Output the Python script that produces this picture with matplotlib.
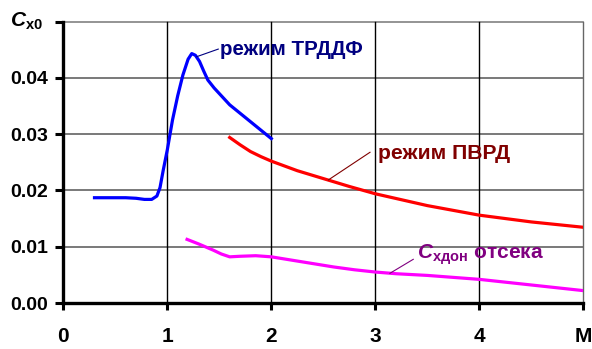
import matplotlib
matplotlib.use("Agg")
import matplotlib.pyplot as plt

plt.rcParams['font.family'] = ['Liberation Sans', 'DejaVu Sans']
plt.rcParams['font.weight'] = 'bold'
plt.rcParams['mathtext.fontset'] = 'custom'
plt.rcParams['mathtext.it'] = 'Liberation Sans:italic:bold'
plt.rcParams['mathtext.bf'] = 'Liberation Sans:bold'
plt.rcParams['mathtext.rm'] = 'Liberation Sans:bold'

# --- data ---
m_trddf = [0.30, 0.40, 0.50, 0.60, 0.70, 0.78, 0.85, 0.90, 0.93, 0.96, 1.00, 1.05,
           1.10, 1.15, 1.20, 1.235, 1.27, 1.31, 1.35, 1.39, 1.45, 1.50, 1.60, 1.70,
           1.80, 1.90, 2.00]
cx_trddf = [0.0187, 0.0187, 0.0187, 0.0187, 0.0186, 0.0184, 0.0184, 0.0190, 0.0205,
            0.0235, 0.0272, 0.0325, 0.0368, 0.0405, 0.0433, 0.0443, 0.0440, 0.0429,
            0.0412, 0.0396, 0.0382, 0.0372, 0.0352, 0.0337, 0.0322, 0.0307, 0.0292]

m_pvrd = [1.60, 1.70, 1.80, 1.90, 2.00, 2.25, 2.50, 2.75, 3.00, 3.50, 4.00, 4.50, 5.00]
cx_pvrd = [0.0294, 0.0281, 0.0269, 0.0260, 0.0252, 0.0235, 0.0221, 0.0207, 0.0194,
           0.0173, 0.0156, 0.0144, 0.01345]

m_don = [1.19, 1.30, 1.44, 1.52, 1.60, 1.70, 1.85, 2.00, 2.20, 2.40, 2.60, 2.80,
         3.00, 3.20, 3.50, 4.00, 4.50, 5.00]
cx_don = [0.0113, 0.0105, 0.0094, 0.0087, 0.0082, 0.0083, 0.0084, 0.0082, 0.0076,
          0.0070, 0.0064, 0.0059, 0.0055, 0.0052, 0.0049, 0.0042, 0.0032, 0.0022]

x_ticks = [0, 1, 2, 3, 4, 5]
x_labels = ['0', '1', '2', '3', '4', 'M']
y_ticks = [0.00, 0.01, 0.02, 0.03, 0.04, 0.05]
y_labels = ['0.00', '0.01', '0.02', '0.03', '0.04', '']

fig = plt.figure(figsize=(5.92, 3.49), dpi=100)
ax = fig.add_axes([63.3 / 592, 1 - 303 / 349, 520 / 592, (303 - 21.5) / 349])

ax.set_xlim(0, 5)
ax.set_ylim(0, 0.05)

# grid
for yv in y_ticks[1:]:
    ax.axhline(yv, color='#555555' if yv < 0.05 else '#777777', lw=1.1, zorder=1,
               clip_on=False)
for xv in x_ticks[1:]:
    ax.axvline(xv, color='#000000' if xv < 5 else '#666666', lw=1.0, zorder=1,
               clip_on=False)

ax.plot(m_trddf, cx_trddf, color='#0000FF', lw=2.3, zorder=3, solid_joinstyle='round')
ax.plot(m_pvrd, cx_pvrd, color='#FF0000', lw=2.3, zorder=3, solid_joinstyle='round')
ax.plot(m_don, cx_don, color='#FF00FF', lw=2.3, zorder=3, solid_joinstyle='round')

for s in ['top', 'right']:
    ax.spines[s].set_visible(False)
for s in ['left', 'bottom']:
    ax.spines[s].set_linewidth(2.4)
    ax.spines[s].set_zorder(4)

ax.set_xticks(x_ticks)
ax.set_xticklabels(x_labels)
ax.set_yticks(y_ticks)
ax.set_yticklabels(y_labels)
ax.tick_params(axis='y', direction='out', length=6, width=2.2, pad=5, labelsize=14)
ax.tick_params(axis='x', direction='out', length=5, width=2.2, pad=12, labelsize=15)

# annotations
ax.plot([1.283, 1.49], [0.04375, 0.0451], color='#000080', lw=0.8, zorder=3)
ax.text(1.51, 0.0451, 'режим ТРДДФ', color='#000080', fontsize=14.8, va='center', ha='left')

ax.plot([2.548, 2.949], [0.02185, 0.02677], color='#800000', lw=0.8, zorder=3)
ax.text(3.03, 0.0265, 'режим ПВРД', color='#800000', fontsize=15.2, va='center', ha='left')

ax.plot([3.141, 3.365], [0.00528, 0.00776], color='#800080', lw=0.8, zorder=3)
ax.text(3.40, 0.0078, r'$C_{\mathbf{хдон}}$ отсека', color='#800080', fontsize=15,
        va='baseline', ha='left')

fig.text(10 / 592, 1 - 26.7 / 349, r'$C_{\mathbf{x0}}$', fontsize=15, ha='left',
         va='baseline', color='black')

fig.savefig('out.png', dpi=100)
